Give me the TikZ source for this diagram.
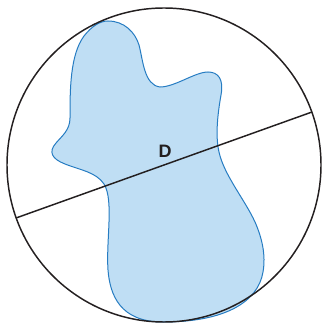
\documentclass[tikz,border=0pt]{standalone}
\usepackage{fontspec}
\setmainfont{Liberation Sans}
\usepackage{tikz}

\definecolor{blobfill}{RGB}{191,222,244}
\definecolor{blobline}{RGB}{38,124,194}
\definecolor{inkline}{RGB}{35,31,32}

\begin{document}
\begin{tikzpicture}[x=0.75pt,y=0.75pt,yscale=-1,xscale=1]
\useasboundingbox (0,0) rectangle (321,324);

%Shape: Blob [id:region]
\draw  [color=blobline, fill=blobfill, line width=0.75]  (108,21) .. controls (124,21) and (135,32) .. (139,45) .. controls (143,60) and (144,85) .. (160,87) .. controls (175,87) and (195,72) .. (208,72) .. controls (218,72) and (224,79) .. (221,95) .. controls (218,112) and (215,135) .. (219,152) .. controls (224,175) and (245,200) .. (255,222) .. controls (262,238) and (266,255) .. (263,272) .. controls (258,302) and (225,322) .. (163,322) .. controls (120,322) and (110,295) .. (108,270) .. controls (106,240) and (114,200) .. (104,184) .. controls (96,172) and (80,170) .. (65,164) .. controls (52,159) and (48,152) .. (56,143) .. controls (62,136) and (70,130) .. (70,118) .. controls (70,90) and (70,55) .. (84,36) .. controls (92,26) and (100,21) .. (108,21) -- cycle ;

%Shape: Circle [id:disk]
\draw  [color=inkline, line width=1.1]  (164,165) circle (157) ;

%Straight Lines [id:diameter]
\coordinate (dl) at (16,218);
\coordinate (dr) at (312,112);
\draw  [color=inkline, line width=1.1]  (dl) -- (dr) ;

% Text Node
\node (lblD) at (165,151) [inner sep=0.75pt, text=inkline] {\fontsize{13.5}{15}\selectfont\bfseries D};

\end{tikzpicture}
\end{document}
